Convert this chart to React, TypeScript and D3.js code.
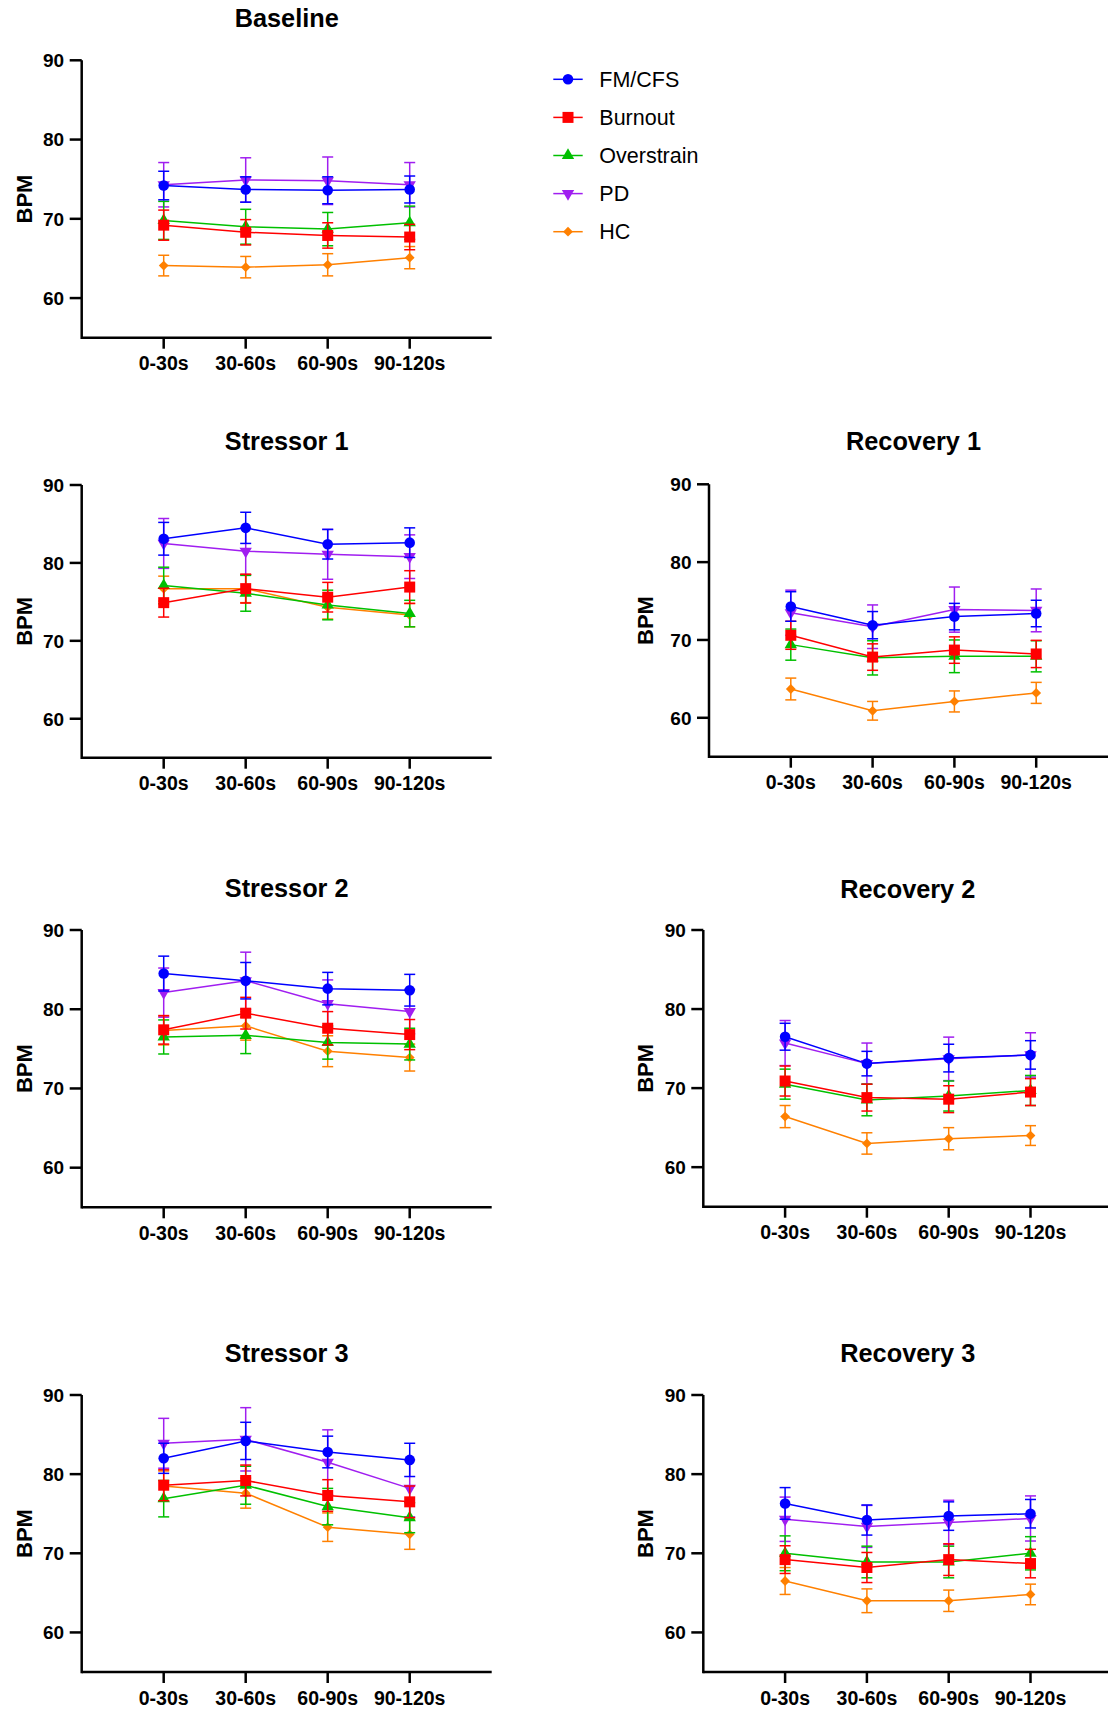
import React from "react";
import * as d3 from "d3";

// groups, time bins and panels
const groups = ["FM/CFS", "Burnout", "Overstrain", "PD", "HC"];
const categories = ["0-30s", "30-60s", "60-90s", "90-120s"];
const panelTitles = ["Baseline", "Stressor 1", "Recovery 1", "Stressor 2", "Recovery 2", "Stressor 3", "Recovery 3"];
const yTicks = [60, 70, 80, 90];

// mean BPM, one row per group (FM/CFS, Burnout, Overstrain, PD, HC)
const baselineMean = [
  [74.2, 73.7, 73.6, 73.7],
  [69.2, 68.3, 67.9, 67.7],
  [69.8, 69.0, 68.7, 69.5],
  [74.3, 74.9, 74.8, 74.3],
  [64.1, 63.9, 64.2, 65.1],
];
const baselineSem = [
  [1.8, 1.6, 1.7, 1.7],
  [1.9, 1.6, 1.6, 1.6],
  [2.4, 2.2, 2.1, 2.1],
  [2.8, 2.8, 3.0, 2.8],
  [1.3, 1.35, 1.4, 1.4],
];

const stressor1Mean = [
  [83.1, 84.5, 82.4, 82.6],
  [74.9, 76.7, 75.6, 76.9],
  [77.1, 76.1, 74.6, 73.5],
  [82.5, 81.5, 81.1, 80.8],
  [76.7, 76.7, 74.3, 73.3],
];
const stressor1Sem = [
  [2.1, 2.0, 1.9, 1.9],
  [1.85, 1.85, 1.9, 2.1],
  [2.35, 2.3, 1.9, 1.7],
  [3.2, 3.0, 3.2, 2.8],
  [1.6, 1.8, 1.5, 1.5],
];

const recovery1Mean = [
  [74.3, 71.9, 73.0, 73.4],
  [70.6, 67.8, 68.7, 68.2],
  [69.4, 67.7, 67.9, 67.9],
  [73.5, 71.7, 73.9, 73.8],
  [63.7, 60.9, 62.1, 63.2],
];
const recovery1Sem = [
  [1.9, 1.75, 1.7, 1.7],
  [1.8, 1.7, 1.7, 1.75],
  [2.0, 2.2, 2.1, 2.0],
  [2.9, 2.8, 2.9, 2.75],
  [1.4, 1.2, 1.35, 1.35],
];

const stressor2Mean = [
  [84.5, 83.6, 82.6, 82.4],
  [77.4, 79.5, 77.6, 76.8],
  [76.5, 76.7, 75.8, 75.6],
  [82.1, 83.6, 80.7, 79.7],
  [77.3, 77.9, 74.7, 73.9],
];
const stressor2Sem = [
  [2.2, 2.3, 2.05, 2.0],
  [1.8, 2.0, 2.1, 1.9],
  [2.15, 2.3, 2.1, 2.0],
  [3.1, 3.6, 3.0, 2.8],
  [1.8, 1.8, 1.95, 1.7],
];

const recovery2Mean = [
  [76.5, 73.1, 73.8, 74.2],
  [70.9, 68.8, 68.6, 69.5],
  [70.5, 68.5, 69.0, 69.7],
  [75.7, 73.1, 73.7, 74.2],
  [66.4, 63.0, 63.6, 64.0],
];
const recovery2Sem = [
  [1.7, 1.55, 1.75, 1.8],
  [1.9, 1.7, 1.7, 1.7],
  [1.9, 2.0, 1.9, 1.9],
  [2.85, 2.6, 2.75, 2.8],
  [1.4, 1.35, 1.4, 1.25],
];

const stressor3Mean = [
  [82.0, 84.2, 82.8, 81.8],
  [78.6, 79.2, 77.3, 76.5],
  [76.9, 78.6, 75.9, 74.5],
  [83.9, 84.4, 81.5, 78.2],
  [78.5, 77.6, 73.3, 72.4],
];
const stressor3Sem = [
  [1.9, 2.35, 2.0, 2.1],
  [1.95, 1.95, 2.0, 2.0],
  [2.3, 2.4, 2.3, 1.9],
  [3.15, 4.0, 4.1, 3.6],
  [1.9, 1.9, 1.8, 1.9],
];

const recovery3Mean = [
  [76.3, 74.2, 74.7, 75.0],
  [69.2, 68.2, 69.2, 68.7],
  [70.0, 68.9, 68.9, 70.0],
  [74.3, 73.4, 73.9, 74.4],
  [66.5, 64.0, 64.0, 64.8],
];
const recovery3Sem = [
  [2.0, 1.9, 1.8, 1.8],
  [1.75, 1.9, 2.0, 1.8],
  [2.2, 2.0, 2.0, 2.1],
  [2.8, 2.65, 2.8, 2.85],
  [1.7, 1.5, 1.35, 1.3],
];

const means = [baselineMean, stressor1Mean, recovery1Mean, stressor2Mean, recovery2Mean, stressor3Mean, recovery3Mean];
const sems = [baselineSem, stressor1Sem, recovery1Sem, stressor2Sem, recovery2Sem, stressor3Sem, recovery3Sem];

const colors = ["#0000ff", "#ff0000", "#00c000", "#a01ef0", "#ff8000"];

// where each panel sits on the page
const layout = [
  { x0: 81.7, step: 82, y90: 60.3, y55: 337.7, titleY: 27.3, bpmX: 23.5 },
  { x0: 81.7, step: 82, y90: 485, y55: 757.7, titleY: 450, bpmX: 23.5 },
  { x0: 709, step: 81.8, y90: 484.3, y55: 756.7, titleY: 450, bpmX: 645 },
  { x0: 81.7, step: 82, y90: 930, y55: 1207.3, titleY: 897, bpmX: 23.5 },
  { x0: 703.3, step: 81.8, y90: 930, y55: 1206.7, titleY: 897.5, bpmX: 645 },
  { x0: 81.7, step: 82, y90: 1395, y55: 1672, titleY: 1362.3, bpmX: 23.5 },
  { x0: 703.3, step: 81.8, y90: 1395, y55: 1672, titleY: 1362.3, bpmX: 645 },
];

const font = "'Liberation Sans', Arial, Helvetica, sans-serif";

const markerPath = (i: number) => {
  if (i === 0) return d3.symbol().type(d3.symbolCircle).size(88)()!;
  if (i === 1) return d3.symbol().type(d3.symbolSquare).size(121)()!;
  if (i === 2 || i === 3) return d3.symbol().type(d3.symbolTriangle).size(66)()!;
  return d3.symbol().type(d3.symbolSquare).size(48)()!;
};
const markerRot = (i: number) => (i === 3 ? 180 : i === 4 ? 45 : 0);

const Marker = ({ i, x, y }: { i: number; x: number; y: number }) => (
  <path
    d={markerPath(i)}
    transform={`translate(${x},${y}) rotate(${markerRot(i)})`}
    fill={colors[i]}
  />
);

const drawOrder = [4, 3, 2, 1, 0];

const Panel = ({ p }: { p: number }) => {
  const L = layout[p];
  const x = d3.scaleLinear().domain([0, 5]).range([L.x0, L.x0 + 5 * L.step]);
  const y = d3.scaleLinear().domain([55, 90]).range([L.y55, L.y90]);
  const line = d3
    .line<number>()
    .x((_, j) => x(j + 1))
    .y((d) => y(d));
  const cap = 5.5;
  return (
    <g>
      <text
        x={(x(0) + x(5)) / 2}
        y={L.titleY}
        textAnchor="middle"
        fontFamily={font}
        fontWeight="bold"
        fontSize={25.3}
      >
        {panelTitles[p]}
      </text>
      <text
        transform={`translate(${L.bpmX + 8},${(y(55) + y(90)) / 2}) rotate(-90)`}
        textAnchor="middle"
        fontFamily={font}
        fontWeight="bold"
        fontSize={22}
      >
        BPM
      </text>
      {drawOrder.map((g) => (
        <g key={g}>
          <path d={line(means[p][g])!} fill="none" stroke={colors[g]} strokeWidth={1.5} />
          {means[p][g].map((m, j) => {
            const s = sems[p][g][j];
            const cx = x(j + 1);
            return (
              <g key={j} stroke={colors[g]} strokeWidth={1.5}>
                <line x1={cx} x2={cx} y1={y(m - s)} y2={y(m + s)} />
                <line x1={cx - cap} x2={cx + cap} y1={y(m + s)} y2={y(m + s)} />
                <line x1={cx - cap} x2={cx + cap} y1={y(m - s)} y2={y(m - s)} />
              </g>
            );
          })}
          {means[p][g].map((m, j) => (
            <Marker key={"m" + j} i={g} x={x(j + 1)} y={y(m)} />
          ))}
        </g>
      ))}
      {/* axes */}
      <g stroke="#000" strokeWidth={2.5} fill="none">
        <line x1={x(0)} x2={x(0)} y1={y(55) + 1.25} y2={y(90)} />
        <line x1={x(0)} x2={x(5)} y1={y(55)} y2={y(55)} />
        {yTicks.map((t) => (
          <line key={t} x1={x(0) - 12} x2={x(0)} y1={y(t)} y2={y(t)} />
        ))}
        {categories.map((c, j) => (
          <line key={c} x1={x(j + 1)} x2={x(j + 1)} y1={y(55)} y2={y(55) + 11} />
        ))}
      </g>
      {yTicks.map((t) => (
        <text
          key={t}
          x={x(0) - 17.5}
          y={y(t) + 6.8}
          textAnchor="end"
          fontFamily={font}
          fontWeight="bold"
          fontSize={19}
        >
          {t}
        </text>
      ))}
      {categories.map((c, j) => (
        <text
          key={c}
          x={x(j + 1)}
          y={y(55) + 32.5}
          textAnchor="middle"
          fontFamily={font}
          fontWeight="bold"
          fontSize={19.5}
        >
          {c}
        </text>
      ))}
    </g>
  );
};

const legendY = d3.scalePoint<string>().domain(groups).range([79.3, 231.7]);

const Legend = () => (
  <g>
    {groups.map((g, i) => (
      <g key={g}>
        <line x1={553.3} x2={582.7} y1={legendY(g)} y2={legendY(g)} stroke={colors[i]} strokeWidth={1.5} />
        <Marker i={i} x={568} y={legendY(g)!} />
        <text x={599.3} y={legendY(g)! + 7.7} fontFamily={font} fontSize={21.5} fill="#000">
          {g}
        </text>
      </g>
    ))}
  </g>
);

export default function App() {
  return (
    <svg
      width={1108}
      height={1710}
      style={{ position: "absolute", left: 0, top: 0, background: "#fff" }}
    >
      <rect width={1108} height={1710} fill="#fff" />
      {panelTitles.map((_, p) => (
        <Panel key={p} p={p} />
      ))}
      <Legend />
    </svg>
  );
}
